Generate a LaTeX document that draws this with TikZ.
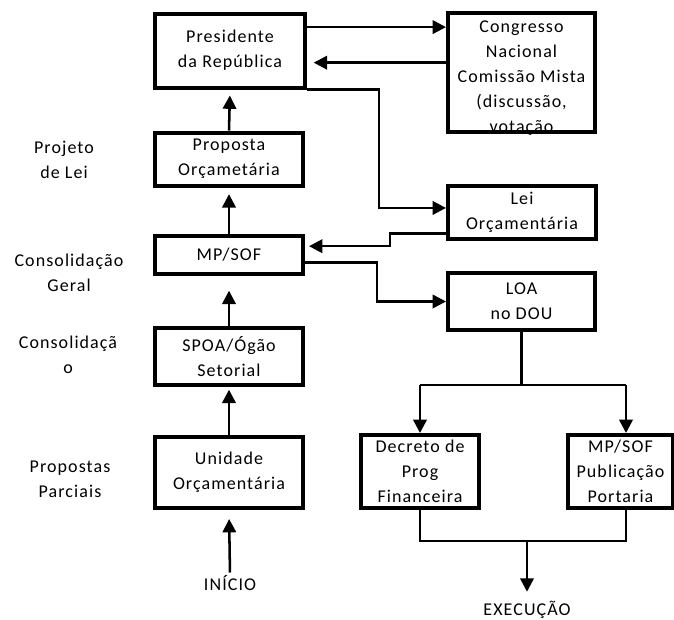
\documentclass[tikz,border=0pt]{standalone}
\usepackage{fontspec}
\setmainfont{Carlito}[LetterSpace=6]
\usetikzlibrary{arrows.meta,calc}

\begin{document}
\begin{tikzpicture}[x=0.75pt,y=0.75pt,yscale=-1,xscale=1,
    caixa/.style={draw,line width=3pt,align=center,inner sep=0pt,font=\fontsize{13.5}{18.75}\selectfont},
    rotulo/.style={align=center,inner sep=0pt,font=\fontsize{13.5}{18.75}\selectfont},
    seta/.style={line width=1.9pt,-{Triangle[length=10pt,width=10pt]}},
    linha/.style={line width=1.9pt}]
    \useasboundingbox (0,0) rectangle (674,619);

    %Shape: Rectangle [coluna da esquerda]
    \node [caixa,minimum width=112.5pt,minimum height=55.5pt] (pres) at (230,50.5) {Presidente\\da República};
    \node [caixa,minimum width=111pt,minimum height=39.75pt] (prop) at (229,159) {Proposta\\Orçametária};
    \node [caixa,minimum width=111pt,minimum height=28.5pt] (mpsof) at (229,255) {MP/SOF};
    \node [caixa,minimum width=111pt,minimum height=42.75pt] (spoa) at (229,356.5) {SPOA/Ógão\\Setorial};
    \node [caixa,minimum width=111pt,minimum height=53.25pt] (unid) at (229,472.5) {Unidade\\Orçamentária};

    %Shape: Rectangle [coluna da direita]
    % Text Node (sai pela borda de baixo)
    \node [rotulo] (congtxt) at (521.5,78) {Congresso\\Nacional\\Comissão Mista\\(discussão,\\votação};
    \node [caixa,minimum width=110.25pt,minimum height=89.25pt] (cong) at (521.5,72.5) {};
    \node [caixa,minimum width=111pt,minimum height=39.75pt] (lei) at (522,212.5) {Lei\\Orçamentária};
    \node [caixa,minimum width=110.25pt,minimum height=42.75pt] (loa) at (521.5,301.5) {LOA\\no DOU};
    \node [caixa,minimum width=88.5pt,minimum height=54.75pt] (decr) at (420,471.5) {Decreto de\\Prog\\Financeira};
    \node [caixa,minimum width=78.75pt,minimum height=54.75pt] (mpsof2) at (620.5,471.5) {MP/SOF\\Publicação\\Portaria};

    % Text Node
    \node [rotulo] (projeto) at (64,160) {Projeto\\de Lei};
    % Text Node
    \node [rotulo] (consger) at (69,272.5) {Consolidação\\Geral};
    % Text Node
    \node [rotulo] (consol) at (68,354.5) {Consolidaçã\\o};
    % Text Node
    \node [rotulo] (parc) at (70,479.5) {Propostas\\Parciais};
    % Text Node
    \node [rotulo] (inicio) at (230,583) {INÍCIO};
    % Text Node
    \node [rotulo] (exec) at (527,610) {EXECUÇÃO};

    \coordinate (ramo) at (626,385);
    \coordinate (junta) at (527,541);

    %Straight Lines [subida]
    \draw [seta,shorten >=6.75pt,shorten <=2pt] (inicio.north) -- (unid.south);
    \draw [seta,shorten >=2pt] (unid.north) -- (spoa.south);
    \draw [seta,shorten >=11pt] (spoa.north) -- (mpsof.south);
    \draw [seta,shorten >=5pt] (mpsof.north) -- (prop.south);
    \draw [seta,shorten >=4.5pt] (prop.north) -- (pres.south);

    %Straight Lines [presidente e congresso]
    \draw [seta] ($(pres.north east)!.2!(pres.south east)$) coordinate (ida) -- (ida -| cong.west);
    \draw [seta,shorten >=5pt] ($(cong.north west)!.42!(cong.south west)$) coordinate (volta) -- (volta -| pres.east);
    \draw [seta] (pres.south east) -- ++(72,0) |- ($(lei.north west)!.42!(lei.south west)$);
    \draw [seta,shorten >=3pt] ($(lei.north west)!.87!(lei.south west)$) -- ++(-56,0) |- ($(mpsof.north east)!.29!(mpsof.south east)$);
    \draw [seta] ($(mpsof.north east)!.68!(mpsof.south east)$) -- ++(72,0) |- (loa.west);

    %Straight Lines [ramos]
    \draw [linha] (loa.south) -- (loa.south |- ramo);
    \draw [linha] (decr.north |- ramo) -- (ramo);
    \draw [seta] (decr.north |- ramo) -- (decr.north);
    \draw [seta] (ramo) -- (ramo |- mpsof2.north);
    \draw [linha] (decr.south) |- (ramo |- junta) -- (ramo |- mpsof2.south);
    \draw [seta,shorten >=7pt] (junta) -- (exec.north);

\end{tikzpicture}
\end{document}
